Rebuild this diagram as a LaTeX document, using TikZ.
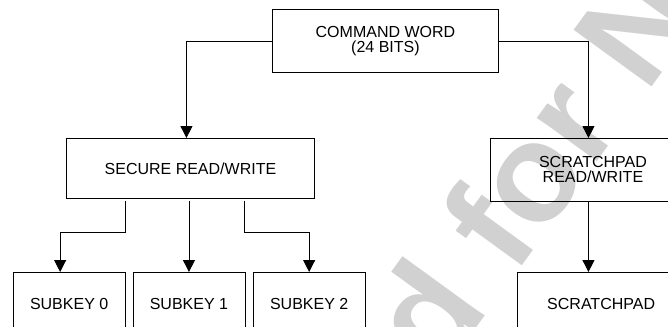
\documentclass[tikz,border=0pt]{standalone}
\usepackage{fontspec}
\setmainfont{Liberation Sans}
\usetikzlibrary{arrows.meta,calc}
\begin{document}
\begin{tikzpicture}[x=1pt,y=-1pt,
  box/.style={draw,line width=0.9pt,rectangle,inner sep=0pt,anchor=north west,align=center,font=\fontsize{16}{15}\selectfont},
  conn/.style={line width=0.9pt,-{Triangle[width=12pt,length=12pt]}},
  wmark/.style={rotate=54,text=black!18,inner sep=0pt,font=\fontsize{140}{140}\selectfont\bfseries}]
\useasboundingbox (0,0) rectangle (668,326);
\begin{scope}
\clip (0,0) rectangle (668,326);
\node[wmark] (wm) at (540,180) {\llap{Not Recommended }for\rlap{ New Designs}};
\node[box,minimum width=226pt,minimum height=63pt] (cmd) at (272,9.5) {COMMAND WORD\\(24 BITS)};
\node[box,minimum width=248pt,minimum height=60pt] (sec) at (66,138) {SECURE READ/WRITE};
\node[box,minimum width=205pt,minimum height=63pt] (srw) at (490,138) {SCRATCHPAD\\READ/WRITE};
\node[box,minimum width=112pt,minimum height=63pt] (sk0) at (12.7,272) {SUBKEY 0};
\node[box,minimum width=112pt,minimum height=63pt] (sk1) at (132.5,272) {SUBKEY 1};
\node[box,minimum width=112pt,minimum height=63pt] (sk2) at (252.7,272) {SUBKEY 2};
\node[box,minimum width=168pt,minimum height=63pt] (scr) at (516.7,272) {SCRATCHPAD};
\draw[conn] (cmd.west) -| ([xshift=-4pt]sec.north);
\draw[conn] (cmd.east) -| ([xshift=-4.5pt]srw.north);
\draw[conn] ([xshift=59pt,yshift=-2pt]sec.south west) -- ++(0,32) -| ([xshift=-9pt]sk0.north);
\draw[conn] ([yshift=-2pt]sec.south -| sk1.north) -- (sk1.north);
\draw[conn] ([xshift=178pt,yshift=-2pt]sec.south west) -- ++(0,32) -| (sk2.north);
\draw[conn] ([xshift=-4.5pt]srw.south) -- ([xshift=-4.5pt]srw.south |- scr.north);
\end{scope}
\end{tikzpicture}
\end{document}
